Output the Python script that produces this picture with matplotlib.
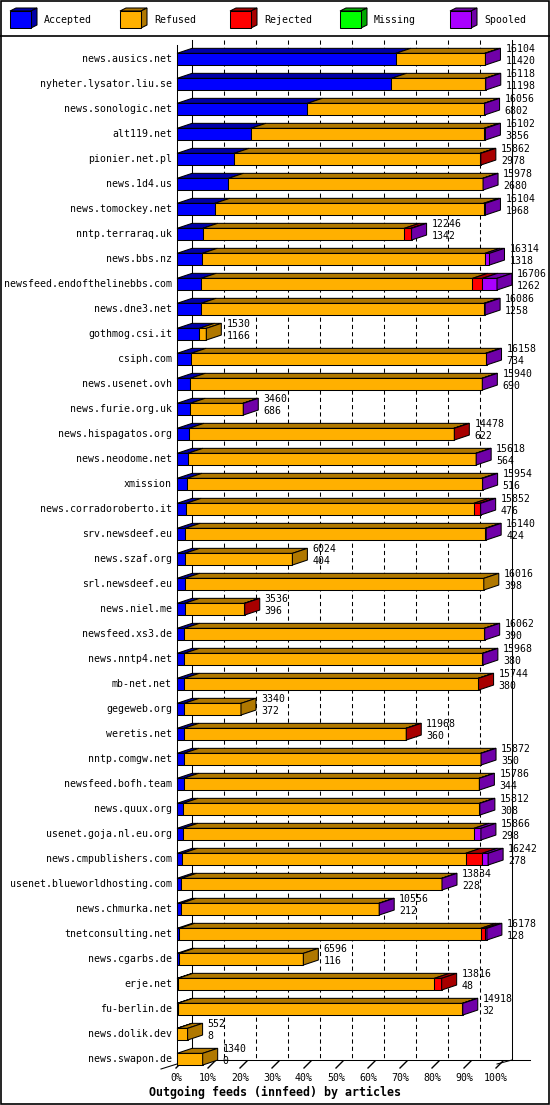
import matplotlib
matplotlib.use('Agg')
import matplotlib.pyplot as plt
from matplotlib.patches import Polygon, Rectangle

hosts = ['news.ausics.net', 'nyheter.lysator.liu.se', 'news.sonologic.net', 'alt119.net',
         'pionier.net.pl', 'news.1d4.us', 'news.tomockey.net', 'nntp.terraraq.uk',
         'news.bbs.nz', 'newsfeed.endofthelinebbs.com', 'news.dne3.net', 'gothmog.csi.it',
         'csiph.com', 'news.usenet.ovh', 'news.furie.org.uk', 'news.hispagatos.org',
         'news.neodome.net', 'xmission', 'news.corradoroberto.it', 'srv.newsdeef.eu',
         'news.szaf.org', 'srl.newsdeef.eu', 'news.niel.me', 'newsfeed.xs3.de',
         'news.nntp4.net', 'mb-net.net', 'gegeweb.org', 'weretis.net',
         'nntp.comgw.net', 'newsfeed.bofh.team', 'news.quux.org', 'usenet.goja.nl.eu.org',
         'news.cmpublishers.com', 'usenet.blueworldhosting.com', 'news.chmurka.net',
         'tnetconsulting.net', 'news.cgarbs.de', 'erje.net', 'fu-berlin.de',
         'news.dolik.dev', 'news.swapon.de']
offered = [16104, 16118, 16056, 16102, 15862, 15978, 16104, 12246, 16314, 16706,
           16086, 1530, 16158, 15940, 3460, 14478, 15618, 15954, 15852, 16140,
           6024, 16016, 3536, 16062, 15968, 15744, 3340, 11968, 15872, 15786,
           15812, 15866, 16242, 13834, 10556, 16178, 6596, 13816, 14918, 552, 1340]
accepted = [11420, 11198, 6802, 3856, 2978, 2680, 1968, 1342, 1318, 1262,
            1258, 1166, 734, 690, 686, 622, 564, 516, 476, 424,
            404, 398, 396, 390, 380, 380, 372, 360, 350, 344,
            308, 298, 278, 228, 212, 128, 116, 48, 32, 8, 0]
refused = [4644, 4880, 9234, 12176, 12844, 13278, 14036, 10524, 14756, 14164,
           14768, 364, 15374, 15230, 2754, 13826, 15034, 15388, 15016, 15666,
           5620, 15618, 3120, 15652, 15568, 15344, 2968, 11588, 15502, 15422,
           15484, 15203, 14784, 13586, 10324, 15730, 6480, 13388, 14866, 544, 1340]
rejected = [0, 0, 0, 50, 40, 0, 0, 350, 0, 520,
            0, 0, 0, 0, 0, 30, 0, 0, 310, 0,
            0, 0, 20, 0, 0, 20, 0, 20, 0, 0,
            0, 0, 870, 0, 0, 220, 0, 380, 0, 0, 0]
missing = [0] * len(hosts)
spooled = [40, 40, 20, 20, 0, 20, 100, 30, 240, 760,
           60, 0, 50, 20, 20, 0, 20, 50, 50, 50,
           0, 0, 0, 20, 20, 0, 0, 0, 20, 20,
           20, 365, 310, 20, 20, 100, 0, 0, 20, 0, 0]

series_names = ['Accepted', 'Refused', 'Rejected', 'Missing', 'Spooled']
front_colors = ['#0000ff', '#ffb000', '#ff0000', '#00ff00', '#aa00ff']
dark_colors = ['#0000a8', '#b07800', '#a80000', '#00a800', '#7000a8']
tick_pcts = list(range(0, 101, 10))

plt.rcParams['font.family'] = ['DejaVu Sans Mono']
FS = 7.1
LW = 0.75

W, H = 550, 1105
# pixel layout of the picture
x0_px, pct_px = 177, 3.2      # 0% of the front plane, pixels per percent
row0_px, row_px = 59.2, 25    # centre of first bar, row pitch
depth_x, depth_y = 15, 5      # 3d offset of the back plane
top_px, floor_px = 40, 1060

fig = plt.figure(figsize=(W / 100, H / 100), dpi=100)

# decoration layer in pixels
deco = fig.add_axes([0, 0, 1, 1])
deco.set_xlim(0, W)
deco.set_ylim(H, 0)
deco.axis('off')

# data layer: x in percent of the biggest feed, y in rows
ax = fig.add_axes([0, 0, 1, 1])
ax.set_xlim(-x0_px / pct_px, (W - x0_px) / pct_px)
ax.set_ylim((H - row0_px) / row_px, -row0_px / row_px)
ax.axis('off')

dx = depth_x / pct_px
dy = depth_y / row_px
bh = 11.7 / row_px

# frame and legend
deco.add_patch(Rectangle((0.5, 0.5), W - 2, H - 2, fill=False, ec='black', lw=1.2))
deco.plot([0, W], [35.5, 35.5], color='black', lw=1.2)
for k, name in enumerate(series_names):
    lx = 10 + 110 * k
    deco.add_patch(Polygon([(lx, 11), (lx + 21, 11), (lx + 27, 8), (lx + 6, 8)],
                           fc=dark_colors[k], ec='black', lw=LW))
    deco.add_patch(Polygon([(lx + 21, 11), (lx + 27, 8), (lx + 27, 25), (lx + 21, 28)],
                           fc=dark_colors[k], ec='black', lw=LW))
    deco.add_patch(Rectangle((lx, 11), 21, 17, fc=front_colors[k], ec='black', lw=LW))
    deco.text(lx + 34, 20, name, fontsize=FS, ha='left', va='center')

# walls, grid and floor
deco.plot([x0_px, x0_px], [top_px + depth_y, floor_px + 4], color='black', lw=LW)
deco.plot([x0_px + depth_x] * 2, [top_px, floor_px], color='black', lw=LW)
xr = x0_px + 100 * pct_px + depth_x
deco.plot([xr, xr], [top_px, floor_px], color='black', lw=LW)
for t in tick_pcts[1:-1]:
    xb = x0_px + t * pct_px + depth_x
    deco.plot([xb, xb], [top_px, floor_px], color='black', lw=LW, ls=(0, (4, 3)))
deco.plot([x0_px + depth_x, xr + 18], [floor_px, floor_px], color='black', lw=LW)
deco.plot([xr - depth_x, xr], [floor_px + 4, floor_px], color='black', lw=LW)
deco.plot([x0_px - 16, x0_px], [floor_px + 9, floor_px + 4], color='black', lw=LW)
for t in tick_pcts:
    xf = x0_px + t * pct_px
    deco.plot([xf - 1, xf + 6], [floor_px + 8, floor_px + 1], color='black', lw=1.0)
    deco.text(xf - 1, 1078, '%d%%' % t, fontsize=FS, ha='center', va='center')
deco.text(275, 1092, 'Outgoing feeds (innfeed) by articles', fontsize=8.4,
          fontweight='bold', ha='center', va='center')

# bars
max_off = max(offered)
series = [accepted, refused, rejected, missing, spooled]
for i, host in enumerate(hosts):
    top = i - bh / 2
    bot = i + bh / 2
    left = 0
    last = 0
    for k, vals in enumerate(series):
        w = vals[i] / max_off * 100
        if w <= 0:
            continue
        ax.add_patch(Polygon([(left, top), (left + w, top), (left + w + dx, top - dy),
                              (left + dx, top - dy)], fc=dark_colors[k], ec='black', lw=LW))
        ax.add_patch(Rectangle((left, top), w, bh, fc=front_colors[k], ec='black', lw=LW))
        left += w
        last = k
    ax.add_patch(Polygon([(left, top), (left + dx, top - dy), (left + dx, bot - dy),
                          (left, bot)], fc=dark_colors[last], ec='black', lw=LW))
    tx = left + dx + 5 / pct_px
    ax.text(tx, i - 0.4, str(offered[i]), fontsize=FS, ha='left', va='center')
    ax.text(tx, i + 0.06, str(accepted[i]), fontsize=FS, ha='left', va='center')
    ax.text(-5 / pct_px, i, host, fontsize=FS, ha='right', va='center')

fig.savefig('out.png', dpi=100)
